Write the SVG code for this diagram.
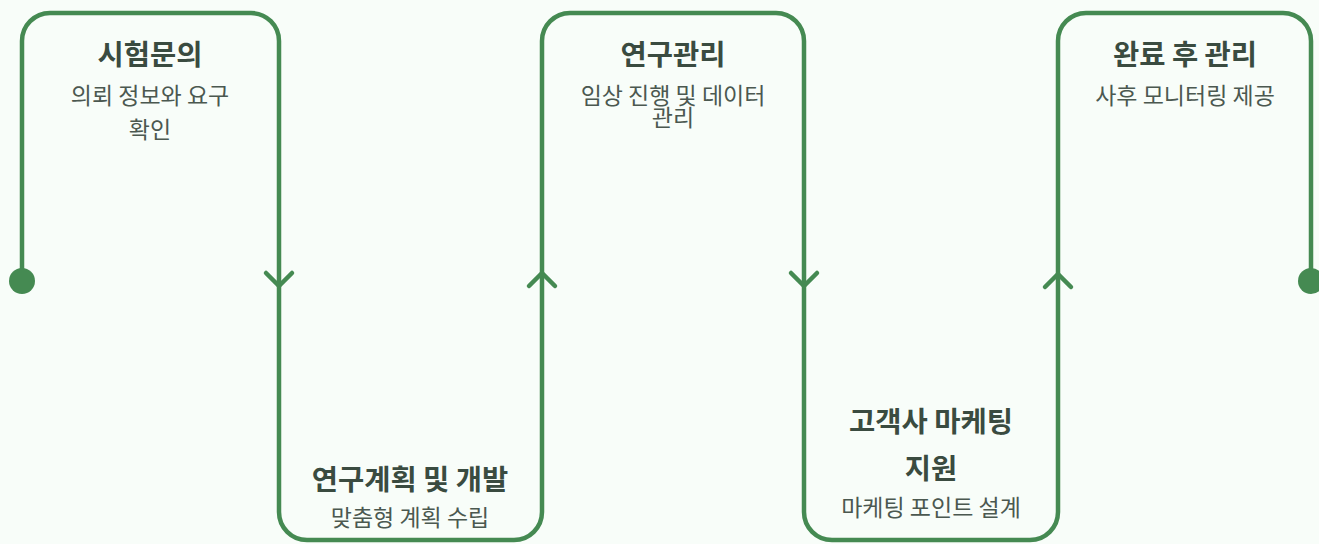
<svg xmlns="http://www.w3.org/2000/svg" width="1319" height="544" viewBox="0 0 1319 544">
<style>
.bg{fill:#f8fdf9}
.line{fill:none;stroke:#458a52;stroke-width:4.5;stroke-linecap:round;stroke-linejoin:round}
.dot{fill:#458a52}
.title{font-family:"Noto Sans CJK KR","Noto Sans",sans-serif;font-size:28.5px;font-weight:700;fill:#3a4b40;text-anchor:middle}
.sub{font-family:"Noto Sans CJK KR","Noto Sans",sans-serif;font-size:23px;font-weight:400;fill:#4b5850;text-anchor:middle}
</style>
<rect class="bg" x="0" y="0" width="1319" height="544"/>
<g id="connectors">
<path class="line" d="M22,281 V41 A28,28 0 0 1 50,13 H251 A28,28 0 0 1 279,41 V512 A28,28 0 0 0 307,540 H514 A28,28 0 0 0 542,512 V41 A28,28 0 0 1 570,13 H776 A28,28 0 0 1 804,41 V512 A28,28 0 0 0 832,540 H1030 A28,28 0 0 0 1058,512 V41 A28,28 0 0 1 1086,13 H1283 A28,28 0 0 1 1311,41 V281"/>
<path class="line" d="M266,273 L279,286 L292,273"/>
<path class="line" d="M529,286 L542,273 L555,286"/>
<path class="line" d="M791,273 L804,286 L817,273"/>
<path class="line" d="M1045,287 L1058,274 L1071,287"/>
<circle class="dot" cx="22" cy="281" r="13"/>
<circle class="dot" cx="1311" cy="281" r="13"/>
</g>
<g id="node-1">
<text class="title" x="150" y="65">시험문의</text>
<text class="sub" x="150" y="104">의뢰 정보와 요구</text>
<text class="sub" x="150" y="138">확인</text>
</g>
<g id="node-2">
<text class="title" x="410" y="490">연구계획 및 개발</text>
<text class="sub" x="410" y="526">맞춤형 계획 수립</text>
</g>
<g id="node-3">
<text class="title" x="673" y="65">연구관리</text>
<text class="sub" x="673" y="104">임상 진행 및 데이터</text>
<text class="sub" x="673" y="126">관리</text>
</g>
<g id="node-4">
<text class="title" x="931" y="432">고객사 마케팅</text>
<text class="title" x="931" y="479">지원</text>
<text class="sub" x="931" y="516">마케팅 포인트 설계</text>
</g>
<g id="node-5">
<text class="title" x="1185" y="65">완료 후 관리</text>
<text class="sub" x="1185" y="104">사후 모니터링 제공</text>
</g>
</svg>
